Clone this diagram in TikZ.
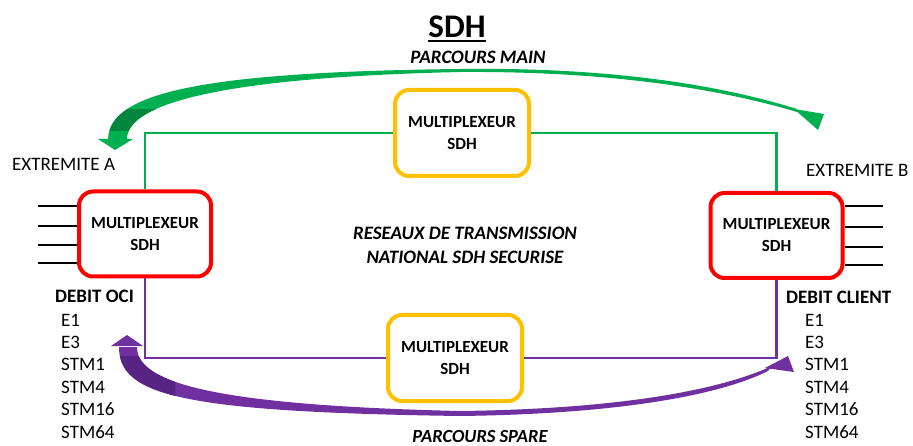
\documentclass[tikz,border=0pt]{standalone}
\usepackage{fontspec}
\setmainfont{Carlito}
\definecolor{mygreen}{HTML}{00B050}
\definecolor{dkgreen}{HTML}{00863D}
\definecolor{mypurple}{HTML}{7030A0}
\definecolor{dkpurple}{HTML}{582484}
\definecolor{myred}{HTML}{FF0000}
\definecolor{myyellow}{HTML}{FFC000}
\begin{document}
\begin{tikzpicture}[x=1pt,y=-1pt,
  muxbox/.style={line width=4pt, rounded corners=14pt, align=center, inner sep=0pt,
    font=\fontsize{17pt}{20pt}\selectfont\bfseries},
  redbox/.style={muxbox, draw=myred, minimum width=132pt, minimum height=85pt},
  yelbox/.style={muxbox, draw=myyellow, minimum width=134pt, minimum height=86pt},
  lbl/.style={font=\fontsize{19pt}{23pt}\selectfont, inner sep=0pt, anchor=west},
  blbl/.style={lbl, font=\fontsize{19pt}{23pt}\selectfont\bfseries},
  itl/.style={font=\fontsize{19pt}{24pt}\selectfont\bfseries\itshape, inner sep=0pt, align=center},
  greenline/.style={draw=mygreen, line width=2.8pt},
  purpleline/.style={draw=mypurple, line width=2.8pt},
  stub/.style={draw=black, line width=1.2pt}]
\useasboundingbox (0,0) rectangle (913,446);

% stubs
\foreach \yy in {206,226,245,263} \draw[stub] (77,\yy) -- (38,\yy);
\foreach \yy in {206,227,247,265} \draw[stub] (845,\yy) -- (883,\yy);

% boxes
\node[redbox] (lr) at (145,234) {MULTIPLEXEUR\\[2pt]SDH};
\node[redbox] (rr) at (776.5,235.5) {MULTIPLEXEUR\\[2pt]SDH};
\node[yelbox] (ty) at (462,133) {MULTIPLEXEUR\\[2pt]SDH};
\node[yelbox] (by) at (455,358) {MULTIPLEXEUR\\[2pt]SDH};

% connectors
\draw[greenline] (lr.north) |- (ty.west);
\draw[greenline] (ty.east) -| (rr.north);
\draw[purpleline] (lr.south) |- (by.west);
\draw[purpleline] (by.east) -| (rr.south);

% title
\node[font=\fontsize{33pt}{38pt}\selectfont\bfseries, inner sep=0pt] (title) at (457,27) {SDH};
\draw[line width=2pt] ([yshift=-3pt]title.base west) -- ([yshift=-3pt]title.base east);
\node[itl] (pmain) at (478,57) {PARCOURS MAIN};
\node[itl, font=\fontsize{18.5pt}{22pt}\selectfont\bfseries\itshape] (pspare) at (480,437) {PARCOURS SPARE};
\node[itl] (reseau) at (465,245) {RESEAUX DE TRANSMISSION\\NATIONAL SDH SECURISE};

% side labels
\node[lbl] (exa) at (12,164) {EXTREMITE A};
\node[lbl] (exb) at (806,170) {EXTREMITE B};
\node[blbl] (doci) at (55,296) {DEBIT OCI};
\node[blbl] (dcli) at (786,297) {DEBIT CLIENT};
\foreach \t/\yy in {E1/320,E3/342,STM1/364,STM4/387,STM16/409,STM64/432}{
  \node[lbl] at (61,\yy) {\t};
  \node[lbl] at (805,\yy) {\t};
}

% green curved arrow (main)
\def\greenband{(108,139) .. controls (110,95) and (190,72) .. (460,69)
  .. controls (610,67) and (720,85) .. (797,109)
  -- (797,112)
  .. controls (720,89) and (610,71) .. (460,72)
  .. controls (200,78) and (127,108) .. (127,139) -- cycle}
\fill[mygreen] \greenband;
\begin{scope}
  \clip (100,110) rectangle (160,131);
  \fill[dkgreen] \greenband;
\end{scope}
\fill[mygreen] (98,139) -- (133,139) -- (115,150) -- cycle;
\fill[mygreen] (794,109) -- (824,114) -- (818,130) -- cycle;

% purple curved arrow (spare)
\def\purpleband{(119,347) .. controls (119,395) and (180,412) .. (460,416)
  .. controls (620,414) and (720,395) .. (768,371)
  -- (772,366)
  .. controls (720,390) and (620,409) .. (460,411)
  .. controls (200,405) and (137,380) .. (137,347) -- cycle}
\fill[mypurple] \purpleband;
\begin{scope}
  \clip (100,356) rectangle (175,420);
  \fill[dkpurple] \purpleband;
\end{scope}
\fill[mypurple] (111,346) -- (143,346) -- (127,335) -- cycle;
\fill[mypurple] (765,368) -- (794,372) -- (788,356) -- cycle;
\end{tikzpicture}
\end{document}
